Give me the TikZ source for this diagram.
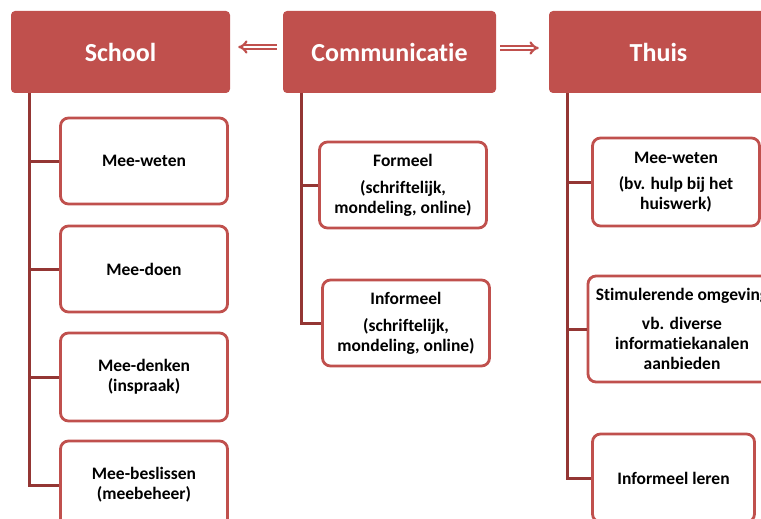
\documentclass[tikz,border=0pt]{standalone}
\usepackage{fontspec}
\setmainfont[Ligatures=NoCommon]{Carlito}
\usetikzlibrary{arrows.meta}
\definecolor{kopRood}{HTML}{C0504D}
\definecolor{lijnRood}{HTML}{943634}

\begin{document}
\begin{tikzpicture}[x=1pt, y=-1pt,
	kop/.style={rectangle, rounded corners=4pt, fill=kopRood, text=white, minimum height=82pt, font=\bfseries\fontsize{26}{31}\selectfont},
	vak/.style={rectangle, rounded corners=8pt, draw=kopRood, line width=2.8pt, fill=white, align=center, minimum width=167pt, minimum height=86pt, font=\bfseries\fontsize{17.5}{20}\selectfont},
	tak/.style={draw=lijnRood, line width=3pt},
	pijl/.style={draw=kopRood, line width=2.2pt, double=white, double distance=2pt, -{Implies}}]
%		\draw [help lines, step=20] (0,0) grid (761,519);
		\path [use as bounding box] (0,0) rectangle (761,519);
		\clip (0,0) rectangle (761,519);
% koppen
		\node [kop, minimum width=219pt] (school) at (120.5,52) {School};
		\node [kop, minimum width=213pt] (comm) at (389.5,52) {Communicatie};
		\node [kop, minimum width=219pt] (thuis) at (658.5,52) {Thuis};
		\draw [pijl, shorten <=6pt, shorten >=8pt] ([yshift=5pt]comm.west) -- ([yshift=5pt]school.east);
		\draw [pijl, shorten <=4pt, shorten >=10pt] ([yshift=4pt]comm.east) -- ([yshift=4pt]thuis.west);
% school
		\node [vak] (sw1) at (144,161) {Mee-weten};
		\node [vak] (sw2) at (144,269) {Mee-doen};
		\node [vak, minimum height=88pt] (sw3) at (144,377) {Mee-denken\\(inspraak)};
		\node [vak, minimum height=88pt] (sw4) at (144,485) {Mee-beslissen\\(meebeheer)};
% communicatie
		\node [vak] (cf) at (403,185) {Formeel\\[7pt](schriftelijk,\\mondeling, online)};
		\node [vak] (ci) at (406,323) {Informeel\\[7pt](schriftelijk,\\mondeling, online)};
% thuis
		\node [vak, minimum height=88pt] (tw) at (676,182) {Mee-weten\\[6pt](bv. hulp bij het\\huiswerk)};
		\node [vak, minimum width=188pt, minimum height=106pt] (ts) at (682,329) {Stimulerende omgeving\\[9pt]vb. diverse\\informatiekanalen\\aanbieden};
		\node [vak, minimum width=162pt, minimum height=88pt] (tl) at (673.5,478) {Informeel leren};
% takken
		\coordinate (sstam) at ([xshift=19pt]school.south west);
		\coordinate (cstam) at ([xshift=19pt]comm.south west);
		\coordinate (tstam) at ([xshift=19pt]thuis.south west);
		\foreach \v in {sw1,sw2,sw3,sw4}
			\draw [tak] (sstam) |- (\v.west);
		\foreach \v in {cf,ci}
			\draw [tak] (cstam) |- (\v.west);
		\foreach \v in {tw,ts,tl}
			\draw [tak] (tstam) |- (\v.west);
\end{tikzpicture}
\end{document}
